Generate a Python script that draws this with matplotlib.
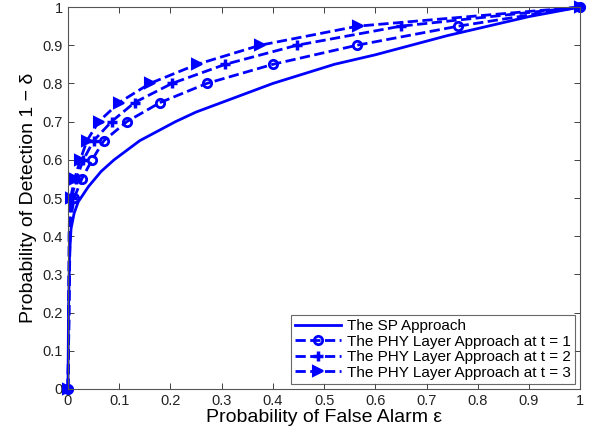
"""ROC curves: SP approach vs. PHY layer approach at t = 1, 2, 3."""

import matplotlib
matplotlib.use("Agg")
import matplotlib.pyplot as plt

plt.rcParams["font.family"] = ["Liberation Sans", "DejaVu Sans"]

# --- data -------------------------------------------------------------------

sp_fa = [0.0, 0.001, 0.003, 0.006, 0.012, 0.02, 0.03, 0.04, 0.065, 0.09,
         0.14, 0.21, 0.25, 0.30, 0.35, 0.40, 0.46, 0.52, 0.60, 0.67, 0.74,
         0.82, 0.90, 1.0]
sp_pd = [0.0, 0.20, 0.35, 0.42, 0.46, 0.49, 0.51, 0.53, 0.57, 0.60,
         0.65, 0.70, 0.725, 0.75, 0.775, 0.80, 0.825, 0.85, 0.875, 0.90,
         0.925, 0.95, 0.975, 1.0]

# PHY layer curves share the detection grid; markers only from 0.5 upward
phy_pd = [0.0, 0.1, 0.2, 0.3, 0.4, 0.45, 0.5, 0.55, 0.6, 0.65, 0.7,
          0.75, 0.8, 0.85, 0.9, 0.95, 1.0]
phy_fa_t1 = [0.0, 0.001, 0.002, 0.003, 0.004, 0.006, 0.012, 0.027, 0.047,
             0.07, 0.115, 0.18, 0.271, 0.40, 0.564, 0.762, 1.0]
phy_fa_t2 = [0.0, 0.001, 0.002, 0.002, 0.003, 0.004, 0.007, 0.016, 0.03,
             0.05, 0.085, 0.13, 0.203, 0.307, 0.447, 0.65, 1.0]
phy_fa_t3 = [0.0, 0.001, 0.001, 0.002, 0.002, 0.003, 0.005, 0.013, 0.024,
             0.037, 0.06, 0.10, 0.16, 0.252, 0.375, 0.566, 1.0]

labels = [
    "The SP Approach",
    "The PHY Layer Approach at t = 1",
    "The PHY Layer Approach at t = 2",
    "The PHY Layer Approach at t = 3",
]

# --- plot -------------------------------------------------------------------

BLUE = "#0000ff"
mark_idx = [0] + list(range(6, len(phy_pd)))

fig = plt.figure(figsize=(6.07, 4.40), dpi=100)
ax = fig.add_axes([0.112, 0.116, 0.844, 0.868])

ax.plot(sp_fa, sp_pd, "-", color=BLUE, lw=2.0, label=labels[0], clip_on=False)
ax.plot(phy_fa_t1, phy_pd, "--", color=BLUE, lw=2.0, marker="o", ms=6,
        mfc="none", mew=2.0, markevery=mark_idx, label=labels[1], clip_on=False)
ax.plot(phy_fa_t2, phy_pd, "--", color=BLUE, lw=2.0, marker="+", ms=7,
        mew=2.5, markevery=mark_idx, label=labels[2], clip_on=False)
ax.plot(phy_fa_t3, phy_pd, "--", color=BLUE, lw=2.0, marker=">", ms=7,
        mfc=BLUE, mew=1.5, markevery=mark_idx, label=labels[3], clip_on=False)

ax.set_xlim(0, 1)
ax.set_ylim(0, 1)
ticks = [i / 10 for i in range(11)]
ax.set_xticks(ticks, [f"{t:g}" for t in ticks])
ax.set_yticks(ticks, [f"{t:g}" for t in ticks])
ax.tick_params(direction="in", top=True, right=True, labelsize=10.5,
               length=4, width=0.6, colors="#222222")
for s in ax.spines.values():
    s.set_linewidth(0.8)
    s.set_color("#555555")

ax.set_xlabel("Probability of False Alarm ε", fontsize=14, labelpad=1)
ax.set_ylabel("Probability of Detection 1 − δ", fontsize=14, labelpad=4)

leg = ax.legend(loc="lower right", fontsize=11, handlelength=3.0,
                fancybox=False, edgecolor="#444444", borderaxespad=0.35,
                borderpad=0.25, labelspacing=0.1, handletextpad=0.4)
leg.get_frame().set_linewidth(0.8)

fig.savefig("out.png", dpi=100)
